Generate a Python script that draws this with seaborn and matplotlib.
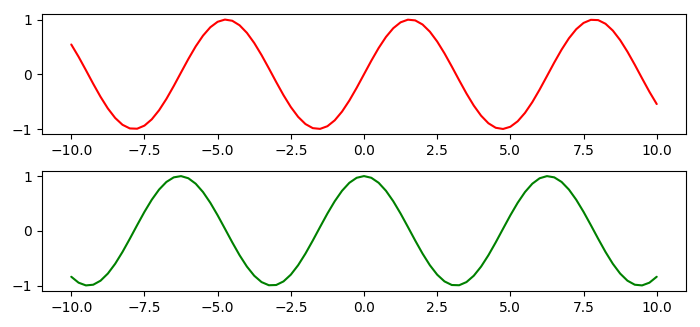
import matplotlib
matplotlib.use("Agg")
import matplotlib.pyplot as plt
import seaborn as sns
import pandas as pd

sns.set_style("ticks")
plt.rcParams['font.family'] = ['DejaVu Sans']

x_vals = [-10, -9.75, -9.5, -9.25, -9, -8.75, -8.5, -8.25, -8, -7.75, -7.5, -7.25, -7, -6.75, -6.5, -6.25,
          -6, -5.75, -5.5, -5.25, -5, -4.75, -4.5, -4.25, -4, -3.75, -3.5, -3.25, -3, -2.75, -2.5, -2.25,
          -2, -1.75, -1.5, -1.25, -1, -0.75, -0.5, -0.25, 0, 0.25, 0.5, 0.75, 1, 1.25, 1.5, 1.75, 2, 2.25,
          2.5, 2.75, 3, 3.25, 3.5, 3.75, 4, 4.25, 4.5, 4.75, 5, 5.25, 5.5, 5.75, 6, 6.25, 6.5, 6.75, 7,
          7.25, 7.5, 7.75, 8, 8.25, 8.5, 8.75, 9, 9.25, 9.5, 9.75, 10]

top_vals = [0.544, 0.3195, 0.0752, -0.1743, -0.4121, -0.6247, -0.7985, -0.9228, -0.9894, -0.9946, -0.938,
            -0.8231, -0.657, -0.45, -0.2151, 0.0332, 0.2794, 0.5087, 0.7055, 0.8589, 0.9589, 0.9993, 0.9775,
            0.895, 0.7568, 0.5716, 0.3508, 0.1082, -0.1411, -0.3817, -0.5985, -0.7781, -0.9093, -0.984,
            -0.9975, -0.949, -0.8415, -0.6816, -0.4794, -0.2474, 0.0,
            0.2474, 0.4794, 0.6816, 0.8415, 0.949, 0.9975, 0.984, 0.9093, 0.7781, 0.5985, 0.3817, 0.1411,
            -0.1082, -0.3508, -0.5716, -0.7568, -0.895, -0.9775, -0.9993, -0.9589, -0.8589, -0.7055, -0.5087,
            -0.2794, -0.0332, 0.2151, 0.45, 0.657, 0.8231, 0.938, 0.9946, 0.9894, 0.9228, 0.7985, 0.6247,
            0.4121, 0.1743, -0.0752, -0.3195, -0.544]

bottom_vals = [-0.8391, -0.9476, -0.9972, -0.9847, -0.9111, -0.7807, -0.602, -0.3858, -0.1455, 0.1037,
               0.3466, 0.5679, 0.7539, 0.893, 0.9766, 0.9994, 0.9602, 0.861, 0.7087, 0.5122, 0.2837, 0.0376,
               -0.2108, -0.4461, -0.6536, -0.8206, -0.9365, -0.9941, -0.99, -0.9243, -0.8011, -0.6282, -0.4161,
               -0.1782, 0.0707, 0.3153, 0.5403, 0.7317, 0.8776, 0.9689, 1.0,
               0.9689, 0.8776, 0.7317, 0.5403, 0.3153, 0.0707, -0.1782, -0.4161, -0.6282, -0.8011, -0.9243,
               -0.99, -0.9941, -0.9365, -0.8206, -0.6536, -0.4461, -0.2108, 0.0376, 0.2837, 0.5122, 0.7087,
               0.861, 0.9602, 0.9994, 0.9766, 0.893, 0.7539, 0.5679, 0.3466, 0.1037, -0.1455, -0.3858, -0.602,
               -0.7807, -0.9111, -0.9847, -0.9972, -0.9476, -0.8391]

x_ticks = [-10.0, -7.5, -5.0, -2.5, 0.0, 2.5, 5.0, 7.5, 10.0]
y_ticks = [-1, 0, 1]

df = pd.DataFrame({"x": x_vals, "top": top_vals, "bottom": bottom_vals})

fig, (ax1, ax2) = plt.subplots(2, 1, figsize=(7, 3.27), dpi=100)
fig.subplots_adjust(left=0.06, right=0.98, top=0.957, bottom=0.11, hspace=0.3)

sns.lineplot(data=df, x="x", y="top", ax=ax1, color="red", linewidth=1.5)
sns.lineplot(data=df, x="x", y="bottom", ax=ax2, color="green", linewidth=1.5)

for ax in (ax1, ax2):
    ax.set_xlabel("")
    ax.set_ylabel("")
    ax.set_xticks(x_ticks)
    ax.set_xticklabels([f"{t:.1f}".replace("-", "\u2212") for t in x_ticks])
    ax.set_yticks(y_ticks)
    ax.set_yticklabels([str(t).replace("-", "\u2212") for t in y_ticks])
    ax.set_xlim(-11, 11)
    ax.set_ylim(-1.1, 1.1)
    for s in ax.spines.values():
        s.set_visible(True)
        s.set_color("black")
        s.set_linewidth(0.8)
    ax.tick_params(labelsize=10, colors="black", length=3.5, width=0.8)

fig.savefig("out.png", dpi=100)
